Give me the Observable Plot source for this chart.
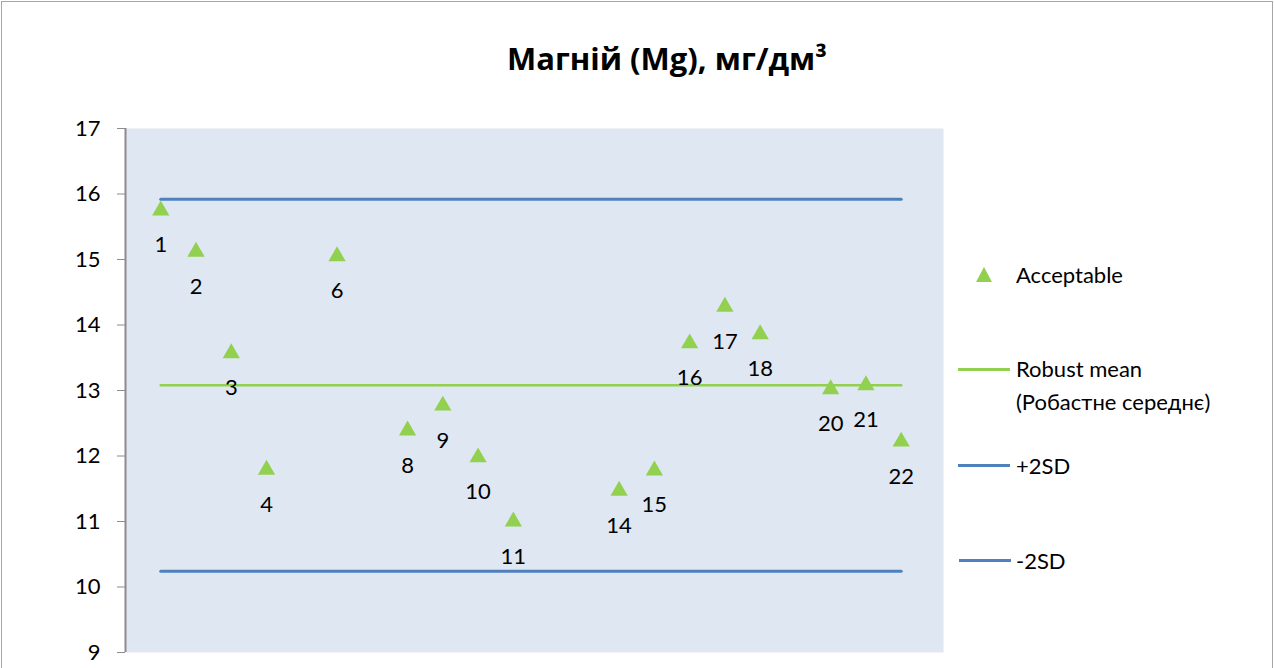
<!DOCTYPE html>
<html><head><meta charset="utf-8">
<script src="https://cdn.jsdelivr.net/npm/d3@7"></script>
<script src="https://cdn.jsdelivr.net/npm/@observablehq/plot@0.6"></script>
<style>
html,body{margin:0;padding:0;background:#fff;}
#wrap{position:relative;width:1274px;height:668px;font-family:Lato,"Open Sans",sans-serif;overflow:hidden;}
#frame{position:absolute;left:1px;top:1px;width:1270px;height:680px;border:1px solid #a6a6a6;}
#title{position:absolute;left:0;width:1334px;top:37px;text-align:center;font-family:"Open Sans",sans-serif;font-weight:bold;font-size:31px;color:#000;}
.leg{position:absolute;font-size:22px;color:#000;line-height:33px;}
.sw{position:absolute;height:3px;width:52px;}
#chart{position:absolute;left:0;top:0;}
</style></head>
<body><div id="wrap"><div id="frame"></div><div id="chart"></div><div id="title">Магній (Mg), мг/дм³</div>
<div id="legend"></div></div>
<script>
const participants = [1,2,3,4,6,8,9,10,11,14,15,16,17,18,20,21,22];
const values = [15.78,15.15,13.60,11.82,15.08,12.42,12.80,12.01,11.03,11.50,11.81,13.75,14.31,13.89,13.05,13.11,12.25];
const robustMean = 13.08;
const plus2SD = 15.92;
const minus2SD = 10.24;
const yTicks = [9,10,11,12,13,14,15,16,17];
const lineSpan = [1,22];
const legendLabels = ["Acceptable","Robust mean","(Робастне середнє)","+2SD","-2SD"];

const pts = participants.map((p,i)=>({x:p,y:values[i]}));
const lineData = (v)=>lineSpan.map(x=>({x,y:v}));

const chart = Plot.plot({
  width:1274, height:668,
  marginLeft:125, marginRight:331, marginTop:128, marginBottom:16,
  style:{fontFamily:"Lato, 'Open Sans', sans-serif", fontSize:"22px", color:"#000", background:"transparent"},
  x:{domain:[0,23.2], axis:null},
  y:{domain:[9,17], ticks:yTicks, tickFormat:d=>String(d), label:null},
  marks:[
    Plot.frame({fill:"#dfe7f2", stroke:null}),
    Plot.axisY({ticks:yTicks, tickSize:8, tickPadding:17, stroke:"#8c8c8c", fill:"#000", fontSize:22, label:null}),
    Plot.ruleX([0],{stroke:"#8c8c8c", strokeWidth:2}),
    Plot.line(lineData(plus2SD),{x:"x",y:"y",stroke:"#4f81bd",strokeWidth:3}),
    Plot.line(lineData(minus2SD),{x:"x",y:"y",stroke:"#4f81bd",strokeWidth:3}),
    Plot.line(lineData(robustMean),{x:"x",y:"y",stroke:"#92d050",strokeWidth:2.5}),
    Plot.dot(pts,{x:"x",y:"y",symbol:"triangle",r:6.4,dy:2,fill:"#92d050",stroke:null}),
    Plot.text(pts,{x:"x",y:"y",text:d=>String(d.x),dy:37,fontSize:22,fill:"#000"})
  ]
});
document.getElementById("chart").appendChild(chart);

const leg = document.getElementById("legend");
leg.innerHTML = `
<svg style="position:absolute;left:975px;top:266px" width="18" height="17"><polygon points="9,1 17,16 1,16" fill="#92d050"/></svg>
<div class="leg" style="left:1016px;top:258px">${legendLabels[0]}</div>
<div class="sw" style="left:958px;top:368px;background:#92d050;height:2.5px"></div>
<div class="leg" style="left:1016px;top:352px">${legendLabels[1]}<br>${legendLabels[2]}</div>
<div class="sw" style="left:958px;top:464px;background:#4f81bd"></div>
<div class="leg" style="left:1016px;top:449px">${legendLabels[3]}</div>
<div class="sw" style="left:959px;top:559px;background:#4f81bd"></div>
<div class="leg" style="left:1016px;top:544px">${legendLabels[4]}</div>`;
</script></body></html>
